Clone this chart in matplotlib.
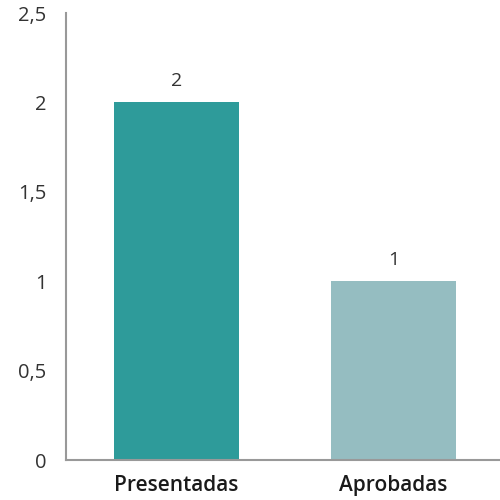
import matplotlib
matplotlib.use("Agg")
import matplotlib.pyplot as plt
from matplotlib.ticker import FuncFormatter

categories = ["Presentadas", "Aprobadas"]
values = [2, 1]
colors = ["#2e9b9a", "#95bdc1"]
yticks = [0, 0.5, 1, 1.5, 2, 2.5]

plt.rcParams['font.family'] = ['Open Sans', 'DejaVu Sans']

fig = plt.figure(figsize=(5, 5), dpi=100)
ax = fig.add_axes([0.132, 0.08, 0.868, 0.894])
x = list(range(len(categories)))
bars = ax.bar(x, values, width=0.576, color=colors)
for xi, v in zip(x, values):
    ax.text(xi, v + 0.07, f"{v}", ha="center", va="bottom", fontsize=14, color="#333333")

ax.set_xlim(-0.509, 1.491)
ax.set_ylim(0, 2.5)
ax.set_yticks(yticks)
ax.yaxis.set_major_formatter(FuncFormatter(lambda v, p: (f"{v:g}").replace(".", ",")))
ax.set_xticks(x)
ax.set_xticklabels(categories, fontsize=15, color="#1a1a1a", fontweight="semibold")
ax.tick_params(axis="y", length=0, pad=14, labelsize=14.5, labelcolor="#333333")
ax.tick_params(axis="x", length=0, pad=11)
for s in ["top", "right"]:
    ax.spines[s].set_visible(False)
for s in ["left", "bottom"]:
    ax.spines[s].set_color("#999999")
    ax.spines[s].set_linewidth(1.5)

fig.savefig("out.png", dpi=100)
